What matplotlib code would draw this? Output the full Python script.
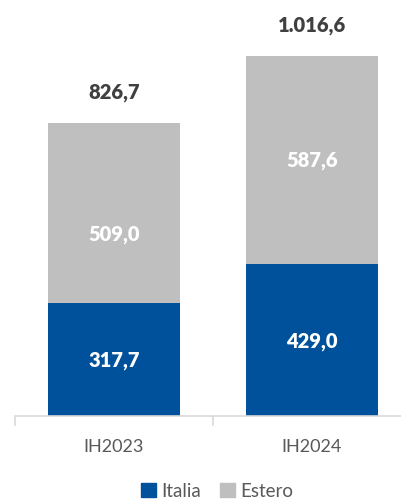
import matplotlib
matplotlib.use("Agg")
import matplotlib.pyplot as plt
from matplotlib.patches import Patch

categories = ["IH2023", "IH2024"]
italia = [317.7, 429.0]
estero = [509.0, 587.6]
totals = [826.7, 1016.6]
italia_labels = ["317,7", "429,0"]
estero_labels = ["509,0", "587,6"]
total_labels = ["826,7", "1.016,6"]

BLUE = "#00519B"
GREY = "#BFBFBF"
TEXT = "#404040"
AXIS = "#D9D9D9"

W, H = 401, 502
fig = plt.figure(figsize=(W / 100, H / 100), dpi=100)
y0 = 85
ax = fig.add_axes([15 / W, y0 / H, 396 / W, 1100 * 0.3542 / H])

x = range(len(categories))
ax.bar(x, italia, width=0.667, color=BLUE)
ax.bar(x, estero, bottom=italia, width=0.667, color=GREY)
ax.set_xlim(-0.5, 1.5)
ax.set_ylim(0, 1100)

for s in ["top", "right", "left"]:
    ax.spines[s].set_visible(False)
ax.spines["bottom"].set_color(AXIS)
ax.spines["bottom"].set_linewidth(1.2)
ax.set_yticks([])
ax.set_xticks([-0.5, 0.5, 1.5], minor=False)
ax.set_xticklabels([])
ax.tick_params(axis="x", length=7, color=AXIS, width=1.2)
ax.set_xticks(list(x), minor=True)
ax.set_xticklabels(categories, minor=True, fontsize=13, color="#595959",
                   family="Lato")
ax.tick_params(axis="x", which="minor", length=0, pad=16)

bold = dict(family="Lato", fontweight="heavy", fontsize=14.5, ha="center",
            va="center")
est_offsets = [-20, 0]
for i in x:
    ax.text(i, italia[i] / 2, italia_labels[i], color="white", **bold)
    ax.annotate(estero_labels[i], (i, italia[i] + estero[i] / 2),
                xytext=(0, est_offsets[i] * 0.72), textcoords="offset points",
                color="white", **bold)
    ax.annotate(total_labels[i], (i, totals[i]), xytext=(0, 22.5),
                textcoords="offset points", color=TEXT, annotation_clip=False,
                **bold)

handles = [Patch(color=BLUE, label="Italia"), Patch(color=GREY, label="Estero")]
fig.legend(handles=handles, loc="center", bbox_to_anchor=(217 / W, 10 / H),
           ncol=2, frameon=False, handlelength=0.8, handleheight=0.8,
           handletextpad=0.3, columnspacing=1.0, borderpad=0.1,
           prop=dict(family="Lato", size=13.5), labelcolor="#595959")

fig.savefig("out.png", dpi=100)
